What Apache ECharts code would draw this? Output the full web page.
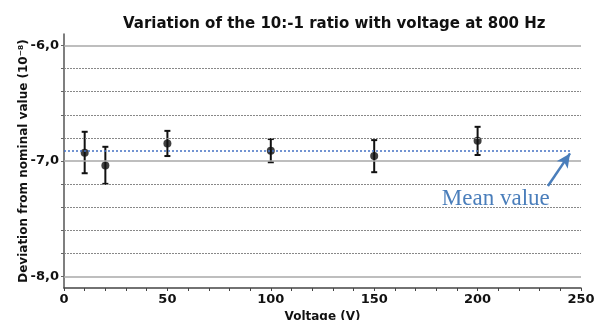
<!DOCTYPE html>
<html>
<head>
<meta charset="utf-8">
<script src="https://cdn.jsdelivr.net/npm/echarts@6.0.0/dist/echarts.min.js"></script>
<style>
  html, body { margin: 0; padding: 0; background: #fff; }
  #chart { width: 595px; height: 320px; }
</style>
</head>
<body>
<div id="chart"></div>
<script>
// measured values (deviation, 1e-8)
const voltages = [10, 20, 50, 100, 150, 200];
const deviation = [-6.928, -7.04, -6.848, -6.911, -6.957, -6.825];
const errLow = [-7.106, -7.198, -6.957, -7.011, -7.097, -6.948];
const errHigh = [-6.747, -6.877, -6.739, -6.81, -6.819, -6.704];
const meanValue = -6.911;
const meanRange = [0, 245];
const majorGrid = [-8, -7, -6];
const minorGrid = [-7.8, -7.6, -7.4, -7.2, -6.8, -6.6, -6.4, -6.2];
const arrowFrom = [234, -7.216];
const arrowTo = [244.7, -6.934];
const noteAt = [208.8, -7.33];

const font = 'DejaVu Sans';
const blue = '#4a7ebb';

const chart = echarts.init(document.getElementById('chart'));

const option = {
  animation: false,
  backgroundColor: '#fff',
  title: {
    text: 'Variation of the 10:-1 ratio with voltage at 800 Hz',
    left: 118,
    top: 12,
    textStyle: { fontFamily: font, fontSize: 15, fontWeight: 'bold', color: '#111' }
  },
  grid: { left: 64, right: 14, top: 34, bottom: 32, outerBoundsMode: 'none' },
  xAxis: {
    type: 'value',
    min: 0,
    max: 250,
    interval: 50,
    name: 'Voltage (V)',
    nameLocation: 'middle',
    nameGap: 21,
    nameTextStyle: { fontFamily: font, fontSize: 12, fontWeight: 'bold', color: '#111' },
    axisLine: { lineStyle: { color: '#444', width: 1.5 } },
    axisTick: { show: true, length: 3, lineStyle: { color: '#444' } },
    minorTick: { show: true, splitNumber: 5, length: 3, lineStyle: { color: '#444' } },
    axisLabel: { fontFamily: font, fontSize: 13, fontWeight: 'bold', color: '#111', margin: 5 },
    splitLine: { show: false }
  },
  yAxis: {
    type: 'value',
    min: -8.1,
    max: -5.9,
    name: 'Deviation from nominal value (10\u207B\u2078)',
    nameLocation: 'middle',
    nameGap: 34,
    nameMoveOverlap: false,
    nameTextStyle: { fontFamily: font, fontSize: 12, fontWeight: 'bold', color: '#111' },
    axisLine: { show: true, lineStyle: { color: '#555', width: 1.5 } },
    axisTick: {
      show: true,
      length: 3,
      customValues: majorGrid.concat(minorGrid),
      lineStyle: { color: '#666' }
    },
    axisLabel: {
      fontFamily: font, fontSize: 13, fontWeight: 'bold', color: '#111', margin: 5,
      customValues: majorGrid,
      formatter: function (v) { return v.toFixed(1).replace('.', ','); }
    },
    splitLine: { show: false }
  },
  series: [
    {
      name: 'grid',
      type: 'scatter',
      data: [],
      z: 1,
      markLine: {
        silent: true,
        symbol: 'none',
        label: { show: false },
        data: majorGrid.map(v => ({ yAxis: v, lineStyle: { color: '#a8a8a8', width: 1.5, type: 'solid' } }))
          .concat(minorGrid.map(v => ({ yAxis: v, lineStyle: { color: '#888', width: 1.2, type: [2, 1] } })))
      }
    },
    {
      name: 'mean',
      type: 'scatter',
      data: [],
      z: 2,
      markLine: {
        silent: true,
        label: { show: false },
        data: [
          [
            { coord: [meanRange[0], meanValue], symbol: 'none', lineStyle: { color: '#4472c4', width: 1.5, type: [2, 2] } },
            { coord: [meanRange[1], meanValue], symbol: 'none' }
          ],
          [
            { coord: arrowFrom, symbol: 'none', lineStyle: { color: blue, width: 2.5, type: 'solid' } },
            { coord: arrowTo, symbol: 'arrow', symbolSize: [10, 14] }
          ]
        ]
      },
      markPoint: {
        silent: true,
        symbol: 'circle',
        symbolSize: 0,
        data: [{ coord: noteAt }],
        label: {
          show: true,
          position: 'inside',
          formatter: 'Mean value',
          fontFamily: 'Liberation Serif',
          fontSize: 23,
          color: blue
        }
      }
    },
    {
      name: 'error',
      type: 'custom',
      z: 3,
      data: voltages.map((v, i) => [v, errLow[i], errHigh[i]]),
      renderItem: function (params, api) {
        const lo = api.coord([api.value(0), api.value(1)]);
        const hi = api.coord([api.value(0), api.value(2)]);
        const w = 3;
        const style = { stroke: '#111', lineWidth: 2 };
        return {
          type: 'group',
          children: [
            { type: 'line', shape: { x1: lo[0], y1: lo[1], x2: hi[0], y2: hi[1] }, style: style },
            { type: 'line', shape: { x1: lo[0] - w, y1: lo[1], x2: lo[0] + w, y2: lo[1] }, style: style },
            { type: 'line', shape: { x1: hi[0] - w, y1: hi[1], x2: hi[0] + w, y2: hi[1] }, style: style }
          ]
        };
      }
    },
    {
      name: 'deviation',
      type: 'scatter',
      z: 4,
      symbolSize: 8,
      itemStyle: { color: '#111' },
      data: voltages.map((v, i) => [v, deviation[i]])
    }
  ]
};

chart.setOption(option);
</script>
</body>
</html>
